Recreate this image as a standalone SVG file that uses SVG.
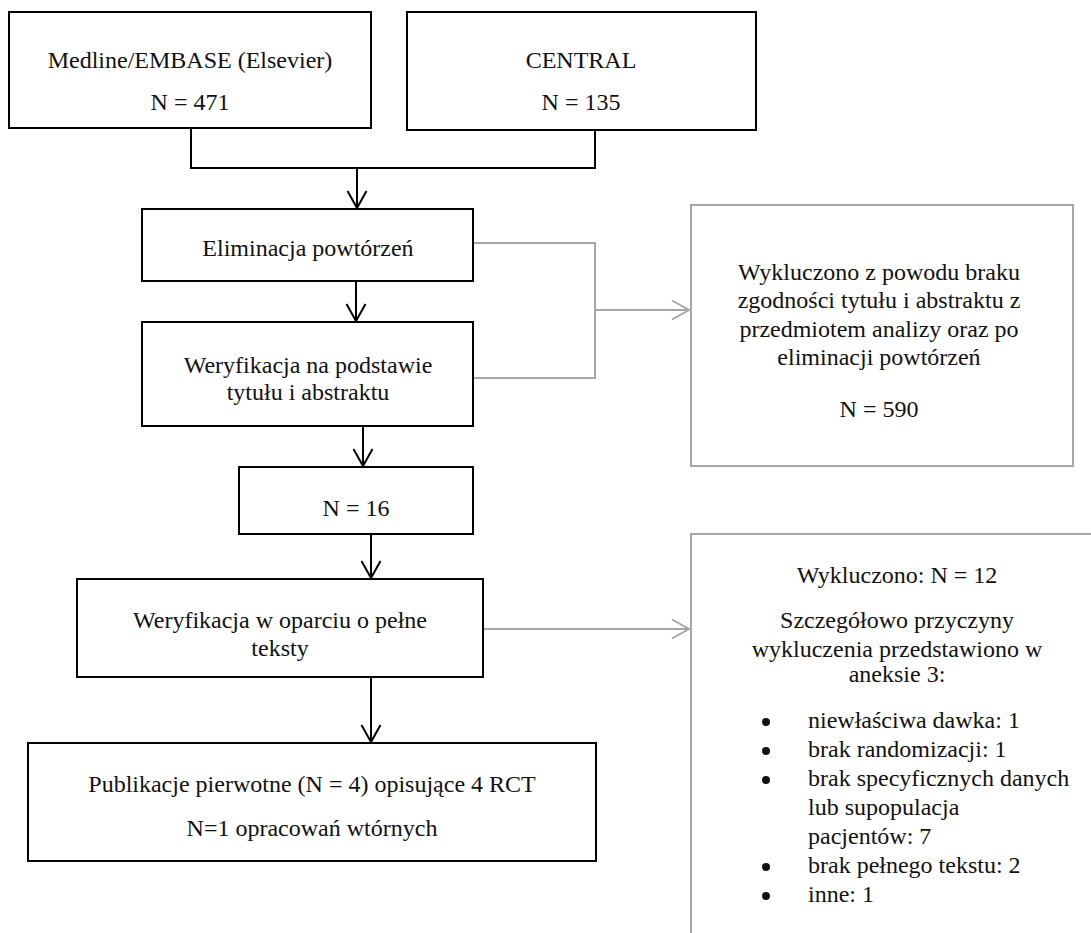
<svg xmlns="http://www.w3.org/2000/svg" width="1091" height="933" viewBox="0 0 1091 933">
<style>
.box{fill:#fff;stroke:#000;stroke-width:2}
.gbox{fill:#fff;stroke:#a6a6a6;stroke-width:2}
.t{font-family:"Liberation Serif","DejaVu Serif",serif;font-size:24px;fill:#111;text-anchor:middle}
.tl{font-family:"Liberation Serif","DejaVu Serif",serif;font-size:24px;fill:#111;text-anchor:start}
.ln{fill:none;stroke:#000;stroke-width:2}
.gl{fill:none;stroke:#a6a6a6;stroke-width:2}
</style>
<defs>
<marker id="arrB" markerUnits="userSpaceOnUse" markerWidth="22" markerHeight="24" viewBox="-20 -12 22 24" refX="0" refY="0" orient="auto">
<path d="M-17,-9.5 L0,0 L-17,9.5" fill="none" stroke="#000" stroke-width="2"/>
</marker>
<marker id="arrG" markerUnits="userSpaceOnUse" markerWidth="22" markerHeight="24" viewBox="-20 -12 22 24" refX="0" refY="0" orient="auto">
<path d="M-17,-9.5 L0,0 L-17,9.5" fill="none" stroke="#a6a6a6" stroke-width="2"/>
</marker>
</defs>
<rect width="1091" height="933" fill="#fff"/>
<g id="connectors">
<path class="ln" d="M191,128 V168 H595 V130"/>
<path class="ln" d="M357,168 V208" marker-end="url(#arrB)"/>
<path class="ln" d="M356,281 V321" marker-end="url(#arrB)"/>
<path class="ln" d="M363,426 V466" marker-end="url(#arrB)"/>
<path class="ln" d="M371,534 V578" marker-end="url(#arrB)"/>
<path class="ln" d="M371,677 V742" marker-end="url(#arrB)"/>
<path class="gl" d="M473,243 H595 V378 H473"/>
<path class="gl" d="M595,310 H689" marker-end="url(#arrG)"/>
<path class="gl" d="M483,629 H689" marker-end="url(#arrG)"/>
</g>
<g id="node-medline">
<rect class="box" x="9" y="12" width="362" height="116"/>
<text class="t" x="190" y="68">Medline/EMBASE (Elsevier)</text>
<text class="t" x="190" y="110">N = 471</text>
</g>
<g id="node-central">
<rect class="box" x="407" y="12" width="349" height="118"/>
<text class="t" x="581" y="68">CENTRAL</text>
<text class="t" x="581" y="110">N = 135</text>
</g>
<g id="node-eliminacja">
<rect class="box" x="142" y="209" width="331" height="72"/>
<text class="t" x="308" y="256">Eliminacja powtórzeń</text>
</g>
<g id="node-weryfikacja-tytul">
<rect class="box" x="142" y="322" width="331" height="104"/>
<text class="t" x="308" y="373">Weryfikacja na podstawie</text>
<text class="t" x="308" y="400">tytułu i abstraktu</text>
</g>
<g id="node-wykluczono-590">
<rect class="gbox" x="691" y="205" width="382" height="261"/>
<text class="t" x="879" y="280">Wykluczono z powodu braku</text>
<text class="t" x="879" y="308">zgodności tytułu i abstraktu z</text>
<text class="t" x="879" y="337">przedmiotem analizy oraz po</text>
<text class="t" x="879" y="365">eliminacji powtórzeń</text>
<text class="t" x="879" y="417">N = 590</text>
</g>
<g id="node-n16">
<rect class="box" x="239" y="467" width="234" height="67"/>
<text class="t" x="356" y="516">N = 16</text>
</g>
<g id="node-weryfikacja-pelne">
<rect class="box" x="77" y="579" width="406" height="98"/>
<text class="t" x="280" y="628">Weryfikacja w oparciu o pełne</text>
<text class="t" x="280" y="656">teksty</text>
</g>
<g id="node-wykluczono-12">
<rect class="gbox" x="691" y="534" width="500" height="500"/>
<text class="t" x="897" y="583">Wykluczono: N = 12</text>
<text class="t" x="897" y="628">Szczegółowo przyczyny</text>
<text class="t" x="897" y="657">wykluczenia przedstawiono w</text>
<text class="t" x="897" y="682">aneksie 3:</text>
<circle cx="766" cy="722" r="4" fill="#111"/>
<circle cx="766" cy="751" r="4" fill="#111"/>
<circle cx="766" cy="780" r="4" fill="#111"/>
<circle cx="766" cy="867" r="4" fill="#111"/>
<circle cx="766" cy="896" r="4" fill="#111"/>
<text class="tl" x="808" y="728">niewłaściwa dawka: 1</text>
<text class="tl" x="808" y="757">brak randomizacji: 1</text>
<text class="tl" x="808" y="786">brak specyficznych danych</text>
<text class="tl" x="808" y="815">lub supopulacja</text>
<text class="tl" x="808" y="844">pacjentów: 7</text>
<text class="tl" x="808" y="873">brak pełnego tekstu: 2</text>
<text class="tl" x="808" y="902">inne: 1</text>
</g>
<g id="node-publikacje">
<rect class="box" x="28" y="743" width="568" height="118"/>
<text class="t" x="312" y="792">Publikacje pierwotne (N = 4) opisujące 4 RCT</text>
<text class="t" x="312" y="836">N=1 opracowań wtórnych</text>
</g>
</svg>
